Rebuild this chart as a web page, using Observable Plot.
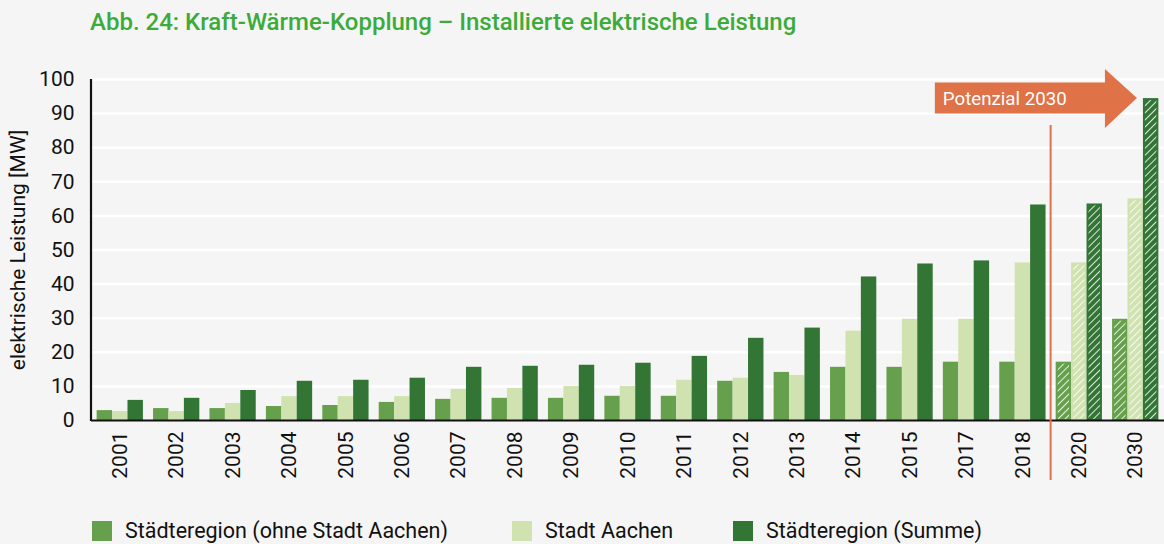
<!DOCTYPE html>
<html>
<head>
<meta charset="utf-8">
<script src="https://cdn.jsdelivr.net/npm/d3@7"></script>
<script src="https://cdn.jsdelivr.net/npm/@observablehq/plot@0.6"></script>
<style>
  html, body { margin: 0; padding: 0; background: #f5f5f5; }
  #wrap { position: relative; width: 1164px; height: 544px; overflow: hidden; background: #f5f5f5; font-family: Roboto, sans-serif; }
  #title { position: absolute; left: 90px; top: 8px; font-size: 24px; line-height: 28px; font-weight: 500; color: #3cab3a; white-space: nowrap; }
  #chart { position: absolute; left: 0; top: 48px; }
  .leg { position: absolute; top: 521px; height: 20px; display: flex; align-items: center; font-size: 21.5px; line-height: 20px; color: #111; white-space: nowrap; }
  .sw { width: 20px; height: 20px; margin-right: 13px; flex: none; }
</style>
</head>
<body>
<div id="wrap">
  <div id="title">Abb. 24: Kraft-Wärme-Kopplung – Installierte elektrische Leistung</div>
  <div id="chart"></div>
  <div id="legend"></div>
</div>
<script>
// ---- data ----
const years = ["2001","2002","2003","2004","2005","2006","2007","2008","2009","2010","2011","2012","2013","2014","2015","2017","2018","2020","2030"];
const ohneStadt = [2.9,3.5,3.5,4.1,4.4,5.3,6.2,6.5,6.5,7.1,7.1,11.5,14.1,15.6,15.6,17.1,17.1,17.1,29.7];
const stadtAachen = [2.6,2.6,5.0,7.0,7.0,7.0,9.1,9.4,10.0,10.0,11.8,12.4,13.2,26.2,29.7,29.7,46.2,46.2,65.0];
const summe = [5.9,6.5,8.8,11.5,11.8,12.4,15.6,15.9,16.2,16.8,18.8,24.1,27.1,42.1,45.9,46.8,63.2,63.5,94.4];
const potentialYears = ["2020","2030"];
const seriesNames = ["Städteregion (ohne Stadt Aachen)", "Stadt Aachen", "Städteregion (Summe)"];
const seriesColors = ["#66a04c", "#cfe2b0", "#327535"];
const yTicks = [0,10,20,30,40,50,60,70,80,90,100];
const yLabel = "elektrische Leistung [MW]";
const arrowLabel = "Potenzial 2030";

// ---- layout ----
const W = 1164, H = 462, mL = 91, mR = 0, mT = 31, mB = 90;
const xOpts = {type: "band", domain: years, range: [mL, W - mR], paddingInner: 0.18, paddingOuter: 0.1, round: false};
const xs = Plot.scale({x: xOpts});
const bw = xs.bandwidth;
const step = xs.step;

const rows = years.map((y, i) => ({year: y, v: [ohneStadt[i], stadtAachen[i], summe[i]], pot: potentialYears.includes(y)}));

function seriesBars(k) {
  const insetLeft = k * bw / 3, insetRight = (2 - k) * bw / 3;
  return [
    Plot.barY(rows, {x: "year", y: d => d.v[k], fill: seriesColors[k], insetLeft, insetRight}),
    Plot.barY(rows.filter(d => d.pot), {x: "year", y: d => d.v[k], fill: "url(#hatch)",
      insetLeft: insetLeft + 2, insetRight: insetRight + 2, insetTop: 2, insetBottom: 1})
  ];
}

function annotations(index, scales, values, dimensions) {
  const x = scales.x, y = scales.y;
  const ns = "http://www.w3.org/2000/svg";
  const g = document.createElementNS(ns, "g");
  // y axis line
  const ax = document.createElementNS(ns, "line");
  ax.setAttribute("x1", mL); ax.setAttribute("x2", mL);
  ax.setAttribute("y1", y(100)); ax.setAttribute("y2", y(0) + 1);
  ax.setAttribute("stroke", "#111"); ax.setAttribute("stroke-width", 2.2);
  g.appendChild(ax);
  // separator line between actual and potential
  const sx = x("2020") - (step - bw) / 2;
  const sep = document.createElementNS(ns, "line");
  sep.setAttribute("x1", sx); sep.setAttribute("x2", sx);
  sep.setAttribute("y1", y(86.5)); sep.setAttribute("y2", y(0) + 60);
  sep.setAttribute("stroke", "#e0724a"); sep.setAttribute("stroke-width", 2);
  g.appendChild(sep);
  // arrow
  const tipX = x("2030") + bw * 2 / 3 - 6;
  const tipY = y(94.4);
  const headW = 32;
  const left = x("2017") - 8;
  const rTop = tipY - 15.5, rBot = tipY + 15.5;
  const hTop = tipY - 29, hBot = tipY + 30;
  const p = document.createElementNS(ns, "path");
  p.setAttribute("d", `M${left},${rTop}L${tipX - headW},${rTop}L${tipX - headW},${hTop}L${tipX},${tipY}L${tipX - headW},${hBot}L${tipX - headW},${rBot}L${left},${rBot}Z`);
  p.setAttribute("fill", "#e07248");
  g.appendChild(p);
  const t = document.createElementNS(ns, "text");
  t.setAttribute("x", left + 8); t.setAttribute("y", tipY);
  t.setAttribute("dy", "0.35em");
  t.setAttribute("text-anchor", "start");
  t.setAttribute("fill", "white");
  t.setAttribute("font-size", 18.7);
  t.textContent = arrowLabel;
  g.appendChild(t);
  return g;
}

const chart = Plot.plot({
  width: W, height: H,
  marginLeft: mL, marginRight: mR, marginTop: mT, marginBottom: mB,
  style: {background: "transparent", fontFamily: "Roboto, sans-serif", fontSize: "21px", color: "#111", overflow: "visible"},
  x: {...xOpts, label: null, tickRotate: -90, tickSize: 0, tickPadding: 11},
  y: {domain: [0, 100], ticks: yTicks, tickSize: 0, tickPadding: 17, label: yLabel, labelAnchor: "center", labelOffset: 81},
  marks: [
    Plot.ruleY(yTicks.filter(d => d > 0), {stroke: "white", strokeWidth: 2.5}),
    seriesBars(0), seriesBars(1), seriesBars(2),
    Plot.ruleY([0], {stroke: "#111", strokeWidth: 2.2}),
    annotations
  ]
});

// hatch pattern
const ns = "http://www.w3.org/2000/svg";
const defs = document.createElementNS(ns, "defs");
defs.innerHTML = `<pattern id="hatch" patternUnits="userSpaceOnUse" width="5" height="5" patternTransform="rotate(45)"><line x1="0" y1="0" x2="0" y2="5" stroke="white" stroke-width="1.7"/></pattern>`;
chart.insertBefore(defs, chart.firstChild);
// y label: drop the auto arrow
chart.querySelectorAll("text").forEach(t => {
  if (t.textContent.startsWith(yLabel)) { t.textContent = yLabel; }
});
document.getElementById("chart").appendChild(chart);

// legend
const legendPos = [92, 512, 733];
const leg = document.getElementById("legend");
seriesNames.forEach((name, i) => {
  const d = document.createElement("div");
  d.className = "leg";
  d.style.left = legendPos[i] + "px";
  d.innerHTML = `<div class="sw" style="background:${seriesColors[i]}"></div><span>${name}</span>`;
  leg.appendChild(d);
});
</script>
</body>
</html>
